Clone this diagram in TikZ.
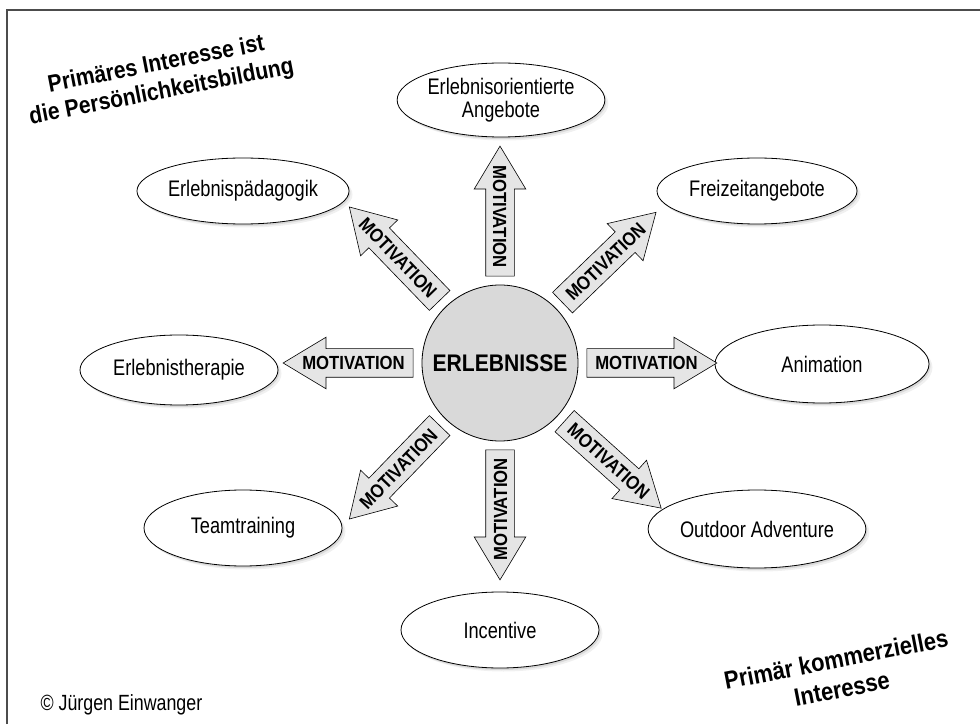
\documentclass[tikz,border=0pt]{standalone}
\usepackage{fontspec}
\newfontfamily\cond[FakeStretch=0.81]{Liberation Sans}
\newfontfamily\condb[FakeStretch=0.88]{Liberation Sans}
\usetikzlibrary{positioning,calc,shapes.geometric,shapes.arrows,shadows}

\tikzset{
  feld/.style={ellipse, draw=black, line width=.8pt, fill=white,
    minimum width=198pt, minimum height=74pt, inner sep=0pt, align=center,
    font=\cond\fontsize{22.5}{23.5}\selectfont,
    drop shadow={shadow xshift=3.5pt, shadow yshift=-3.5pt, opacity=.12},
    drop shadow={shadow xshift=1.5pt, shadow yshift=-2pt, opacity=.2}},
  motiv/.style={single arrow, draw=black, fill=black!10, line width=.6pt,
    single arrow tip angle=62, single arrow head extend=11.5pt,
    minimum height=130pt, text height=14pt, text depth=0pt,
    inner ysep=7pt, inner xsep=0pt,
    font=\condb\bfseries\fontsize{19}{19}\selectfont},
  titel/.style={align=center, rotate=11,
    font=\condb\bfseries\fontsize{24}{28}\selectfont},
}
\newcommand{\motout}{\makebox[0pt]{\hspace*{13pt}MOTIVATION}}
\newcommand{\motin}{\makebox[0pt]{MOTIVATION\hspace*{13pt}}}

\begin{document}
\begin{tikzpicture}[x=1pt, y=1pt]
  \useasboundingbox (0,0) rectangle (980,724);
  % Rahmen
  \draw[black!70, line width=1.2pt] (7,0) -- (7,714) -- (980,714);

  % Mitte
  \node[circle, draw=black, line width=.8pt, fill=black!15, minimum size=156pt, inner sep=0pt,
    font=\condb\bfseries\fontsize{24}{24}\selectfont] (erl) at (500,361) {ERLEBNISSE};

  % Angebote rundherum
  \node[feld] (angebote) at (501,624) {Erlebnisorientierte\\Angebote};
  \node[feld, minimum width=202pt, minimum height=66pt] (paed) at (243,533) {Erlebnispädagogik};
  \node[feld, minimum width=200pt, minimum height=66pt] (freizeit) at (757,533) {Freizeitangebote};
  \node[feld, minimum height=70pt] (therapie) at (179,354) {Erlebnistherapie};
  \node[feld, minimum width=214pt, minimum height=78pt] (animation) at (822,360) {Animation};
  \node[feld, minimum height=76pt] (team) at (243,196) {Teamtraining};
  \node[feld, minimum height=78pt] (outdoor) at (757,195) {Outdoor Adventure};
  \node[feld, minimum height=76pt] (incentive) at (500,94) {Incentive};

  % Pfeile
  \node[motiv] (mAnimation) at ($(erl)+(0:140pt)$) {\motout};
  \node[motiv, rotate=44] (mFreizeit) at ($(erl)+(44:140pt)$) {\motout};
  \node[motiv, rotate=-42] (mOutdoor) at ($(erl)+(-42:140pt)$) {\motout};
  \node[motiv, rotate=-90, shape border rotate=180] (mAngebote) at ($(erl)+(90:140pt)$) {\motin};
  \node[motiv, rotate=90, shape border rotate=180] (mIncentive) at ($(erl)+(-90:140pt)$) {\motin};
  \node[motiv, rotate=-46, shape border rotate=180] (mPaed) at ($(erl)+(134:140pt)$) {\motin};
  \node[motiv, rotate=46, shape border rotate=180] (mTeam) at ($(erl)+(226:140pt)$) {\motin};
  \node[motiv, shape border rotate=180] (mTherapie) at ($(erl)+(180:140pt)$) {\motin};

  % Texte
  \node[titel] (persoenlich) at (159,645) {Primäres Interesse ist\\die Persönlichkeitsbildung};
  \node[titel, font=\condb\bfseries\fontsize{25}{30}\selectfont] (kommerz) at (839,50) {Primär kommerzielles\\Interesse};
  \node[anchor=base west, font=\cond\fontsize{22}{24}\selectfont] (copy) at (37,14) {© Jürgen Einwanger};
\end{tikzpicture}
\end{document}
